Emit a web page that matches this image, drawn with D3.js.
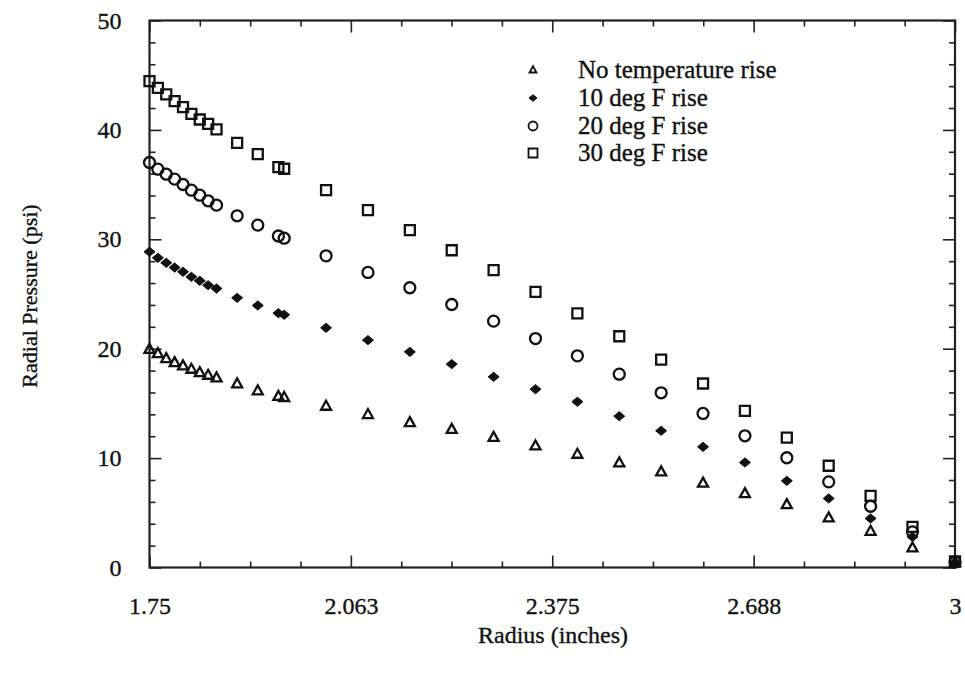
<!DOCTYPE html>
<html><head><meta charset="utf-8">
<script src="https://cdn.jsdelivr.net/npm/d3@7"></script>
<style>body{margin:0;background:#fff;} svg text{font-family:"Liberation Serif","Times New Roman",serif;fill:#111;stroke:#111;stroke-width:0.35px;}</style>
</head><body><svg id="c" width="965" height="675"></svg>
<script>
const radius = [1.75,1.763,1.776,1.789,1.802,1.815,1.828,1.841,1.854,1.886,1.918,1.950,1.959,2.024,2.089,2.154,2.219,2.284,2.349,2.414,2.479,2.544,2.609,2.674,2.739,2.804,2.869,2.934,3.0];
const noRise = [19.95,19.56,19.10,18.74,18.44,18.13,17.82,17.58,17.34,16.79,16.15,15.65,15.55,14.75,13.99,13.25,12.64,11.9,11.12,10.36,9.57,8.75,7.72,6.76,5.76,4.54,3.32,1.8,0.45];
const rise10 = [28.86,28.31,27.85,27.42,27.03,26.57,26.21,25.80,25.50,24.65,23.95,23.25,23.1,21.91,20.78,19.71,18.59,17.43,16.30,15.15,13.83,12.50,11.03,9.60,7.92,6.31,4.48,2.8,0.45];
const rise20 = [37.02,36.41,35.95,35.50,35.01,34.49,34.03,33.52,33.12,32.15,31.3,30.3,30.1,28.49,26.97,25.57,24.04,22.52,20.93,19.35,17.67,15.97,14.08,12.04,10.03,7.83,5.60,3.26,0.5];
const rise30 = [44.45,43.85,43.24,42.63,42.08,41.47,40.95,40.55,40.04,38.82,37.78,36.6,36.45,34.49,32.66,30.83,29.00,27.18,25.2,23.22,21.14,19.01,16.82,14.32,11.88,9.30,6.55,3.72,0.55];
const seriesNames = ["No temperature rise","10 deg F rise","20 deg F rise","30 deg F rise"];
const xTicks = [1.75,2.0625,2.375,2.6875,3];
const xTickLabels = ["1.75","2.063","2.375","2.688","3"];
const yTicks = [0,10,20,30,40,50];

const svg = d3.select("#c");
const L=149.5, R=955, T=20.5, B=567.5;
const x = d3.scaleLinear().domain([1.75,3]).range([L,R]);
const y = d3.scaleLinear().domain([0,50]).range([B,T]);
const xMinor = d3.range(0,17).map(i=>1.75+i*0.078125).filter(v=>!xTicks.some(t=>Math.abs(t-v)<1e-6));
const yMinor = d3.range(0,51,2).filter(v=>v%10!==0);

function styleAxis(g){g.select(".domain").remove();g.selectAll("line").attr("stroke","#222").attr("stroke-width",1.6);g.attr("font-family",null).attr("font-size",null);}
svg.append("g").attr("transform",`translate(0,${B})`).call(d3.axisBottom(x).tickValues(xTicks).tickSize(-12).tickFormat((d,i)=>xTickLabels[i]).tickPadding(29)).call(styleAxis)
  .selectAll("text").style("font-size","24px").attr("fill","#111");
svg.append("g").attr("transform",`translate(0,${B})`).call(d3.axisBottom(x).tickValues(xMinor).tickSize(-6).tickFormat("")).call(styleAxis);
svg.append("g").attr("transform",`translate(0,${T})`).call(d3.axisTop(x).tickValues(xTicks).tickSize(-12).tickFormat("")).call(styleAxis);
svg.append("g").attr("transform",`translate(0,${T})`).call(d3.axisTop(x).tickValues(xMinor).tickSize(-6).tickFormat("")).call(styleAxis);
svg.append("g").attr("transform",`translate(${L},0)`).call(d3.axisLeft(y).tickValues(yTicks).tickSize(-12).tickPadding(28)).call(styleAxis)
  .selectAll("text").style("font-size","24px").attr("fill","#111");
svg.append("g").attr("transform",`translate(${L},0)`).call(d3.axisLeft(y).tickValues(yMinor).tickSize(-6).tickFormat("")).call(styleAxis);
svg.append("g").attr("transform",`translate(${R},0)`).call(d3.axisRight(y).tickValues(yTicks).tickSize(-12).tickFormat("")).call(styleAxis);
svg.append("g").attr("transform",`translate(${R},0)`).call(d3.axisRight(y).tickValues(yMinor).tickSize(-6).tickFormat("")).call(styleAxis);
svg.append("rect").attr("x",L).attr("y",T).attr("width",R-L).attr("height",B-T).attr("fill","none").attr("stroke","#222").attr("stroke-width",2.2);

svg.append("text").attr("x",553).attr("y",643).attr("text-anchor","middle").style("font-size","24px").text("Radius (inches)");
svg.append("text").attr("transform",`translate(37,${(T+B)/2+2}) rotate(-90)`).attr("text-anchor","middle").style("font-size","22px").text("Radial Pressure (psi)");

function tri(s){const h=s*0.9;return `M0,${-h*0.6}L${s/2},${h*0.4}L${-s/2},${h*0.4}Z`;}
function dia(s){return `M0,${-s*0.42}L${s/2},0L0,${s*0.42}L${-s/2},0Z`;}
function sq(s){return `M${-s/2},${-s/2}h${s}v${s}h${-s}Z`;}
const shapes = [
  {d:tri, fill:"none", size:10, lsize:7},
  {d:dia, fill:"#111", size:11, lsize:8},
  {d:null, fill:"none", size:11, lsize:9},
  {d:sq, fill:"none", size:10, lsize:9}
];
const data = [noRise, rise10, rise20, rise30];
data.forEach((vals,si)=>{
  const sh = shapes[si];
  const g = svg.append("g");
  const pts = radius.map((r,i)=>({r,v:vals[i]}));
  if(sh.d===null){
    g.selectAll("circle").data(pts).join("circle").attr("cx",d=>x(d.r)).attr("cy",d=>y(d.v)).attr("r",sh.size/2)
      .attr("fill","none").attr("stroke","#111").attr("stroke-width",2.3);
  } else {
    g.selectAll("path").data(pts).join("path").attr("transform",d=>`translate(${x(d.r)},${y(d.v)})`).attr("d",sh.d(sh.size))
      .attr("fill",sh.fill).attr("stroke","#111").attr("stroke-width",sh.fill==="none"?2.3:1).attr("stroke-linejoin","miter");
  }
});

const legY = [70,98,126,153];
const lg = svg.append("g");
seriesNames.forEach((n,i)=>{
  const sh = shapes[i];
  const cx=533, cy=legY[i];
  if(sh.d===null) lg.append("circle").attr("cx",cx).attr("cy",cy).attr("r",sh.lsize/2).attr("fill","none").attr("stroke","#111").attr("stroke-width",1.8);
  else lg.append("path").attr("transform",`translate(${cx},${cy})`).attr("d",sh.d(sh.lsize)).attr("fill",sh.fill).attr("stroke","#111").attr("stroke-width",sh.fill==="none"?1.8:1);
  lg.append("text").attr("x",578).attr("y",cy+8).style("font-size","25px").text(n);
});
</script></body></html>
